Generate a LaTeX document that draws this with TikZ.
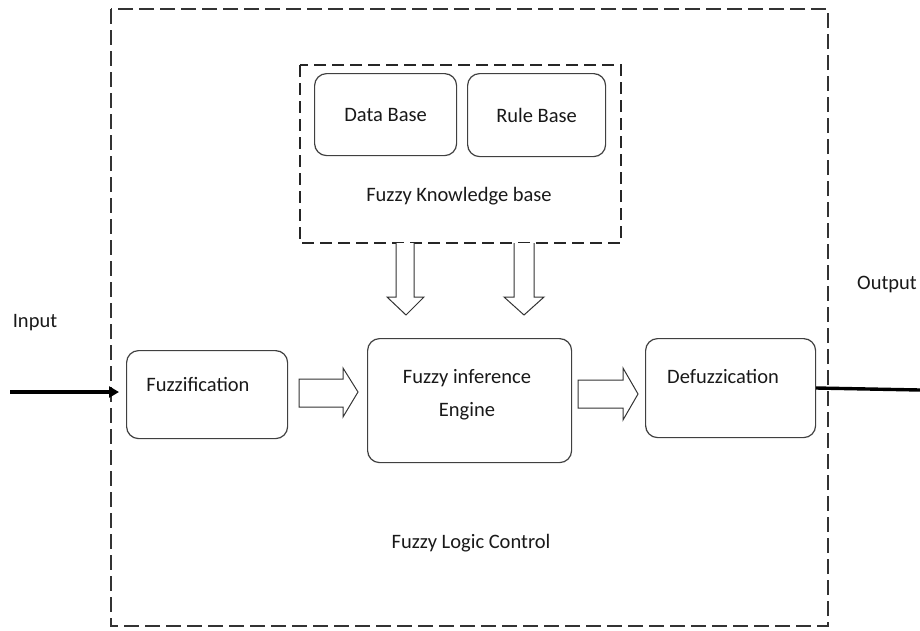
\documentclass[tikz,border=0pt]{standalone}
\usepackage{fontspec}
\setmainfont{Carlito}
\usetikzlibrary{arrows.meta}
\begin{document}
\begin{tikzpicture}[x=1pt,y=-1pt,
  rbox/.style={draw=black!75, line width=1.2pt, rounded corners=12pt, fill=white},
  txt/.style={font=\fontsize{20.5}{24}\selectfont, inner sep=0pt, text=black!90},
  outerdash/.style={draw=black!80, line width=2pt, dash pattern=on 15pt off 6pt},
  kbdash/.style={draw=black!85, line width=2.4pt, dash pattern=on 12pt off 6pt},
  blockarrow/.style={draw=black!80, line width=1pt, fill=white, line join=miter},
  sig/.style={line width=3.4pt, black}
]
\useasboundingbox (0,0) rectangle (920,630);
% outer dashed frame
\draw[outerdash] (111,9) rectangle (828,626);
% knowledge base dashed frame
\draw[kbdash] (300,65) rectangle (621,243);
% boxes
\node[rbox, minimum width=142pt, minimum height=82pt, anchor=north west] (db) at (314,73) {};
\node[txt] at (db.center) {Data Base};
\node[rbox, minimum width=138pt, minimum height=83pt, anchor=north west] (rb) at (467,73) {};
\node[txt] at (rb.center) {Rule Base};
\node[txt] (kb) at (459,196) {Fuzzy Knowledge base};

\node[rbox, minimum width=161pt, minimum height=88pt, anchor=north west] (fz) at (126,350) {};
\node[txt] at (198,384) {Fuzzification};
\node[rbox, minimum width=204pt, minimum height=124pt, anchor=north west] (fie) at (367,338) {};
\node[txt] at (467,378) {Fuzzy inference};
\node[txt] at (467,411) {Engine};
\node[rbox, minimum width=170pt, minimum height=99pt, anchor=north west] (dfz) at (645,338) {};
\node[txt] at (723,376) {Defuzzication};

\node[txt] (fl) at (471,543) {Fuzzy Logic Control};
\node[txt] (inlbl) at (35,323) {Input};
\node[txt] (outlbl) at (887,284) {Output};

% down block arrows
\draw[blockarrow] (396,243) -- (396,297) -- (387,297) -- (406,315) -- (424,297) -- (414,297) -- (414,243);
\draw[blockarrow] (514,243) -- (514,297) -- (504,297) -- (524,315) -- (544,297) -- (534,297) -- (534,243);
% right block arrows
\draw[blockarrow] (299,379) -- (343,379) -- (343,368) -- (358,392) -- (343,417) -- (343,407) -- (299,407) -- cycle;
\draw[blockarrow] (578,380) -- (623,380) -- (623,368) -- (638,394) -- (623,420) -- (623,408) -- (578,408) -- cycle;

% input and output signals
\coordinate (inp) at (10,392);
\draw[sig, -{Triangle[length=10pt,width=11pt]}, shorten >=7pt] (inp) -- (fz.west |- inp);
\coordinate (outp) at (920,390);
\draw[sig] (dfz.east |- 0,388) -- (outp);
\end{tikzpicture}
\end{document}
